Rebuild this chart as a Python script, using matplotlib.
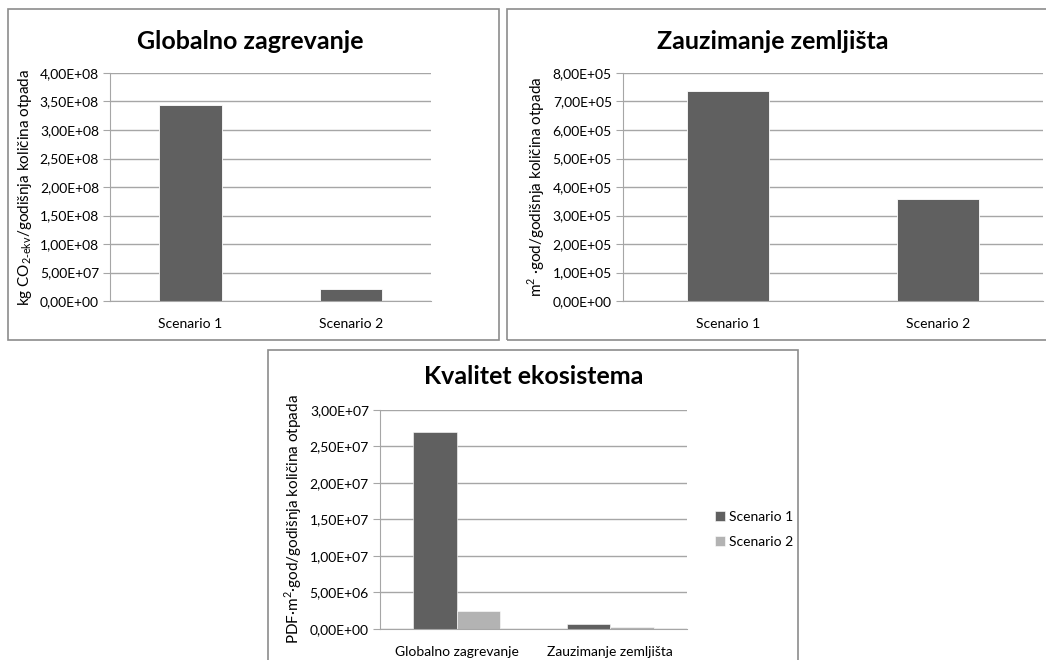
import numpy as np
import matplotlib.pyplot as plt
from matplotlib.patches import Rectangle
from matplotlib.ticker import FuncFormatter

plt.rcParams['font.family'] = ['Lato', 'DejaVu Sans']

scenarios = ["Scenario 1", "Scenario 2"]
categories = ["Globalno zagrevanje", "Zauzimanje zemljišta"]

# values
gw_values = [3.44e8, 2.1e7]
land_values = [7.37e5, 3.58e5]
eco_s1 = [2.70e7, 7.5e5]
eco_s2 = [2.5e6, 2.5e5]

dark = "#606060"
light = "#b3b3b3"
grid_c = "#a6a6a6"


def sci_comma(v, pos):
    return f"{v:.2E}".replace(".", ",")


def style_axis(ax, ymax, step):
    ax.set_ylim(0, ymax)
    ax.set_yticks(np.arange(0, ymax + step / 2, step))
    ax.yaxis.set_major_formatter(FuncFormatter(sci_comma))
    ax.grid(axis="y", color=grid_c, linewidth=1)
    ax.set_axisbelow(True)
    for s in ["top", "right"]:
        ax.spines[s].set_visible(False)
    ax.spines["left"].set_color(grid_c)
    ax.spines["bottom"].set_color(grid_c)
    ax.tick_params(axis="y", length=5, color=grid_c, labelsize=10, pad=3)
    ax.tick_params(axis="x", length=0, labelsize=10, pad=12)


fig = plt.figure(figsize=(10.46, 6.6), dpi=100)

# panel frames
for (x0, y0, w, h) in [(0.0077, 0.4848, 0.4694, 0.5015),
                       (0.4847, 0.4848, 0.53, 0.5015),
                       (0.2562, -0.02, 0.5067, 0.4897)]:
    fig.patches.append(Rectangle((x0, y0), w, h, transform=fig.transFigure,
                                 fill=False, edgecolor="#8c8c8c", linewidth=1.2))

# Globalno zagrevanje
ax1 = fig.add_axes([0.1052, 0.5439, 0.3069, 0.3455])
x = np.arange(len(scenarios))
ax1.bar(x, gw_values, width=0.39, color=dark, edgecolor="white", linewidth=0.6)
ax1.set_xlim(-0.5, 1.5)
ax1.set_xticks(x, scenarios)
style_axis(ax1, 4e8, 5e7)
ax1.set_ylabel(r"kg CO$_{\mathregular{2\text{-}ekv}}$/godišnja količina otpada", fontsize=11, labelpad=4)
fig.text(0.239, 0.937, "Globalno zagrevanje", ha="center", va="center",
         fontsize=18, fontweight="bold")

# Zauzimanje zemljišta
ax2 = fig.add_axes([0.5956, 0.5439, 0.4015, 0.3455])
ax2.bar(x, land_values, width=0.395, color=dark, edgecolor="white", linewidth=0.6)
ax2.set_xlim(-0.5, 1.5)
ax2.set_xticks(x, scenarios)
style_axis(ax2, 8e5, 1e5)
ax2.set_ylabel(r"m$^{\mathregular{2}}$ ·god/godišnja količina otpada", fontsize=11, labelpad=4)
fig.text(0.739, 0.937, "Zauzimanje zemljišta", ha="center", va="center",
         fontsize=18, fontweight="bold")

# Kvalitet ekosistema
ax3 = fig.add_axes([0.3633, 0.047, 0.2935, 0.3318])
xc = np.arange(len(categories))
bw = 0.283
ax3.bar(xc - bw / 2, eco_s1, width=bw, color=dark, edgecolor="white", linewidth=0.4,
        label=scenarios[0])
ax3.bar(xc + bw / 2, eco_s2, width=bw, color=light, edgecolor="white", linewidth=0.4,
        label=scenarios[1])
ax3.set_xlim(-0.5, 1.5)
ax3.set_xticks(xc, categories)
style_axis(ax3, 3e7, 5e6)
ax3.set_ylabel(r"PDF·m$^{\mathregular{2}}$·god/godišnja količina otpada", fontsize=11, labelpad=4)
fig.text(0.51, 0.43, "Kvalitet ekosistema", ha="center", va="center",
         fontsize=18, fontweight="bold")
ax3.legend(loc="center left", bbox_to_anchor=(0.672, 0.198), bbox_transform=fig.transFigure,
           frameon=False, fontsize=10, handlelength=0.7, handleheight=0.7,
           handletextpad=0.3, labelspacing=0.9)

fig.savefig("out.png", dpi=100)
